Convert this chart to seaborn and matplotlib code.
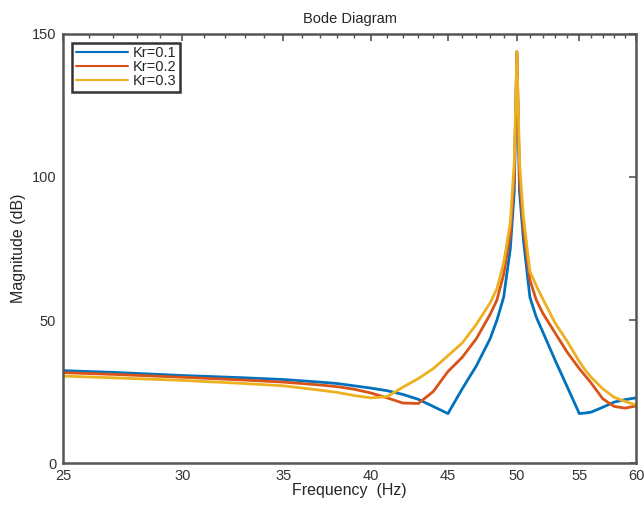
import numpy as np
import pandas as pd
import matplotlib
matplotlib.use("Agg")
import matplotlib.pyplot as plt
import matplotlib.ticker as mticker
import seaborn as sns

# frequency points (Hz)
freq = [25, 27, 30, 33, 35, 37, 38, 39, 40, 41, 42, 43, 44, 45, 46, 47, 48, 48.5, 49, 49.5,
        49.8, 50, 50.2, 50.5, 51, 51.5, 52, 53, 54, 55, 55.5, 56, 57, 58, 59, 60]

# magnitude (dB)
mag_kr01 = [32.3, 31.7, 30.6, 29.8, 29.2, 28.3, 27.8, 27.0, 26.2, 25.3, 24.0, 22.3, 19.8, 17.3,
            26.0, 34.0, 43.5, 50.0, 58.0, 75.0, 95.0, 143.7, 95.0, 78.0, 58.0, 51.0, 46.0,
            36.0, 26.6, 17.3, 17.5, 17.8, 19.5, 21.3, 22.2, 22.8]
mag_kr02 = [31.6, 31.0, 30.0, 29.0, 28.3, 27.3, 26.7, 25.8, 24.5, 22.8, 21.0, 20.8, 25.0, 32.0,
            37.0, 43.5, 52.0, 57.0, 66.0, 80.0, 100.0, 143.7, 100.0, 82.0, 64.0, 57.0, 52.5,
            45.5, 38.7, 33.0, 30.5, 28.0, 22.5, 19.8, 19.2, 20.0]
mag_kr03 = [30.4, 29.8, 28.9, 27.8, 27.0, 25.5, 24.7, 23.6, 22.8, 23.2, 26.5, 29.5, 33.0, 37.5,
            42.0, 48.5, 56.0, 61.0, 70.0, 84.0, 105.0, 143.7, 105.0, 86.0, 67.0, 62.0, 57.5,
            49.0, 42.5, 35.5, 32.5, 30.0, 26.0, 23.0, 21.5, 20.3]

labels = ["Kr=0.1", "Kr=0.2", "Kr=0.3"]
colors = ["#0072BD", "#D95319", "#EDB120"]

df = pd.concat([
    pd.DataFrame({"Frequency": freq, "Magnitude": m, "Kr": lab})
    for m, lab in zip([mag_kr01, mag_kr02, mag_kr03], labels)
])

sns.set_theme(style="white")
plt.rcParams["font.family"] = ["Liberation Sans", "DejaVu Sans"]

fig = plt.figure(figsize=(6.44, 5.05), dpi=100)
ax = fig.add_axes([0.098, 0.083, 0.89, 0.85])

sns.lineplot(data=df, x="Frequency", y="Magnitude", hue="Kr", palette=colors,
             linewidth=2.0, sort=False, estimator=None, ax=ax)

ax.set_xscale("log")
ax.set_xlim(25, 60)
ax.set_ylim(0, 150)
ax.xaxis.set_major_locator(mticker.FixedLocator([25, 30, 35, 40, 45, 50, 55, 60]))
ax.xaxis.set_minor_locator(mticker.FixedLocator([f for f in range(25, 61) if f % 5 != 0]))
ax.xaxis.set_major_formatter(mticker.FormatStrFormatter("%d"))
ax.xaxis.set_minor_formatter(mticker.NullFormatter())
ax.set_yticks([0, 50, 100, 150])

grey = "#555555"
for sp in ax.spines.values():
    sp.set_color(grey)
    sp.set_linewidth(1.8)
ax.tick_params(which="both", direction="in", top=True, right=True, color=grey,
               labelsize=10.5, labelcolor="#333333")
ax.tick_params(which="major", length=5, width=1.2)
ax.tick_params(which="minor", length=3, width=1.0)
ax.tick_params(axis="x", which="major", pad=4)
ax.tick_params(axis="y", which="major", pad=5)

ax.set_xlabel("Frequency  (Hz)", fontsize=11.5, labelpad=0)
ax.set_ylabel("Magnitude (dB)", fontsize=11.5, labelpad=4)
ax.set_title("Bode Diagram", fontsize=10.5, pad=8)

leg = ax.legend(loc="upper left", fontsize=10.5, frameon=True, fancybox=False,
                handlelength=3.6, handletextpad=0.3, borderpad=0.25, labelspacing=0.0,
                borderaxespad=0.6, bbox_to_anchor=(0.0, 1.0))
leg.get_frame().set_edgecolor("black")
leg.get_frame().set_linewidth(1.8)
for line in leg.get_lines():
    line.set_linewidth(1.5)

fig.savefig("out.png", dpi=100)
